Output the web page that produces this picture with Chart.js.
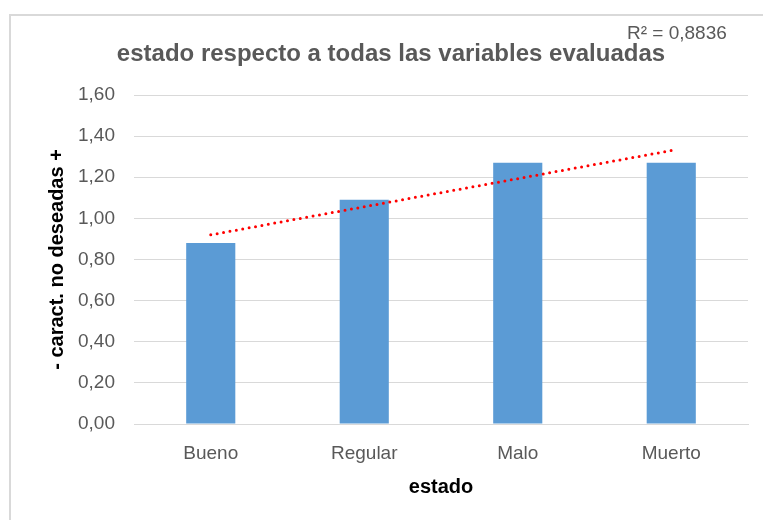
<!DOCTYPE html>
<html>
<head>
<meta charset="utf-8">
<script src="https://cdn.jsdelivr.net/npm/chart.js@4"></script>
<style>
  html, body { margin: 0; padding: 0; background: #fff; }
  #wrap { position: relative; width: 763px; height: 520px; }
  #frame {
    position: absolute; left: 9px; top: 14px; right: 0; bottom: 0;
    border-left: 2px solid #d9d9d9; border-top: 2px solid #d9d9d9;
    pointer-events: none;
  }
</style>
</head>
<body>
<div id="wrap">
  <canvas id="chart" width="763" height="520"></canvas>
  <div id="frame"></div>
</div>
<script>
// Data
const categories = ['Bueno', 'Regular', 'Malo', 'Muerto'];
const values = [0.88, 1.09, 1.27, 1.27];
// linear trendline, only its two ends (first and last category)
const trendEnds = [0.92, null, null, 1.33];
const yTicks = [0, 0.2, 0.4, 0.6, 0.8, 1.0, 1.2, 1.4, 1.6];

const FONT = "'Liberation Sans', 'DejaVu Sans', sans-serif";
const GREY = '#595959';

const titlePlugin = {
    id: 'excelTitle',
    afterDraw(chart) {
        const ctx = chart.ctx;
        ctx.save();
        ctx.fillStyle = GREY;
        ctx.textBaseline = 'alphabetic';
        ctx.textAlign = 'center';
        ctx.font = 'bold 24px ' + FONT;
        ctx.fillText('estado respecto a todas las variables evaluadas', 391, 61);
        ctx.textAlign = 'left';
        ctx.font = '19px ' + FONT;
        ctx.fillText('R² = 0,8836', 627, 39);
        ctx.restore();
    }
};

new Chart(document.getElementById('chart'), {
    data: {
        labels: categories,
        datasets: [
            {
                type: 'line',
                data: trendEnds,
                spanGaps: true,
                borderColor: '#ff0000',
                borderWidth: 3,
                borderDash: [0, 6.5],
                borderCapStyle: 'round',
                pointRadius: 0,
                fill: false,
                order: 0
            },
            {
                type: 'bar',
                data: values,
                backgroundColor: '#5b9bd5',
                borderWidth: 0,
                categoryPercentage: 1,
                barPercentage: 0.32,
                order: 1
            }
        ]
    },
    options: {
        responsive: false,
        animation: false,
        layout: { padding: { top: 95, right: 15, bottom: 21, left: 45 } },
        plugins: {
            legend: { display: false },
            tooltip: { enabled: false }
        },
        scales: {
            x: {
                afterFit(scale) { scale.height = 75; },
                grid: { display: false, drawTicks: false },
                border: { display: true, color: '#d9d9d9', width: 1 },
                ticks: { color: GREY, font: { family: FONT, size: 19 }, padding: 18 },
                title: {
                    display: true, text: 'estado', color: '#000',
                    font: { family: FONT, size: 20, weight: 'bold' },
                    padding: { top: 0, bottom: 0 }
                }
            },
            y: {
                min: 0,
                max: 1.6,
                afterBuildTicks(scale) { scale.ticks = yTicks.map(v => ({ value: v })); },
                afterFit(scale) { scale.width = 89; },
                grid: { color: '#d9d9d9', drawTicks: false },
                border: { display: false },
                ticks: {
                    color: GREY, font: { family: FONT, size: 19 }, padding: 19,
                    callback: v => v.toFixed(2).replace('.', ',')
                },
                title: {
                    display: true, text: '- caract. no deseadas +', color: '#000',
                    font: { family: FONT, size: 20, weight: 'bold' },
                    padding: { top: 0, bottom: 0 }
                }
            }
        }
    },
    plugins: [titlePlugin]
});
</script>
</body>
</html>
